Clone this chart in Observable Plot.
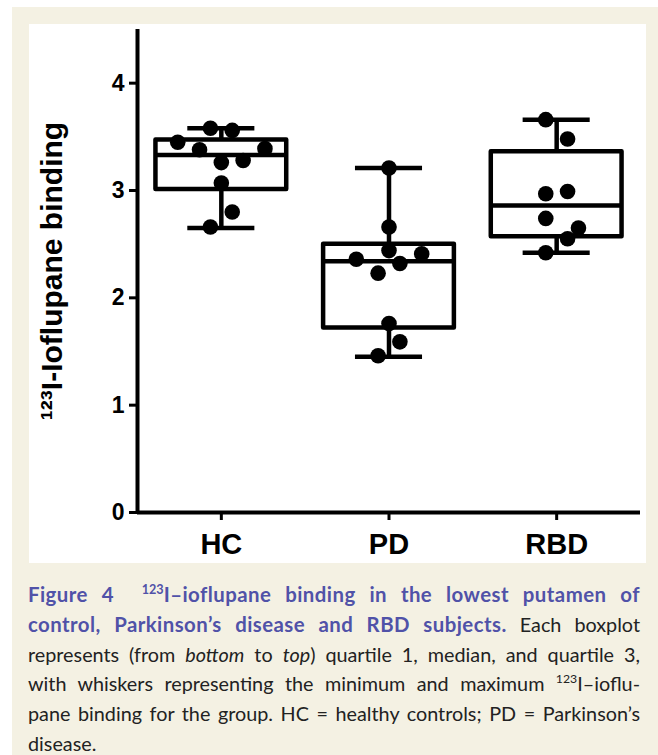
<!DOCTYPE html>
<html>
<head>
<meta charset="utf-8">
<script src="https://cdn.jsdelivr.net/npm/d3@7"></script>
<script src="https://cdn.jsdelivr.net/npm/@observablehq/plot@0.6"></script>
<style>
  html, body { margin: 0; padding: 0; background: #ffffff; width: 658px; height: 755px; overflow: hidden; }
  #sheet { position: absolute; left: 12px; top: 7px; width: 646px; height: 748px; background: #f4f1e3; }
  #panel { position: absolute; left: 29px; top: 24px; width: 617px; height: 539px; background: #ffffff; }
  #panel svg { display: block; }
  #caption { position: absolute; left: 28px; top: 580px; width: 612px; font-family: Lato, "Open Sans", sans-serif; font-size: 19.8px; line-height: 29.8px; color: #222; }
  #caption .ln { white-space: nowrap; text-align: justify; text-align-last: justify; }
  #caption .ln.last { text-align-last: left; }
  #caption b { color: #5052a8; font-weight: 700; font-size: 20.4px; letter-spacing: 0.45px; }
  #caption sup { font-size: 0.62em; line-height: 0; vertical-align: 0.62em; letter-spacing: 0; }
</style>
</head>
<body>
<div id="sheet"></div>
<div id="panel"></div>
<div id="caption">
  <div class="ln"><b>Figure 4&nbsp;&nbsp;<sup>123</sup>I–ioflupane binding in the lowest putamen of</b></div>
  <div class="ln"><b>control, Parkinson’s disease and RBD subjects.</b> Each boxplot</div>
  <div class="ln">represents (from <i>bottom</i> to <i>top</i>) quartile 1, median, and quartile 3,</div>
  <div class="ln">with whiskers representing the minimum and maximum <sup>123</sup>I–ioflu-</div>
  <div class="ln">pane binding for the group. HC = healthy controls; PD = Parkinson’s</div>
  <div class="ln last">disease.</div>
</div>
<script>
// ---- data ----
const groups = ["HC", "PD", "RBD"];

const hcValues  = [3.58, 3.56, 3.45, 3.38, 3.39, 3.26, 3.28, 3.07, 2.80, 2.66];
const hcJitter  = [-0.065, 0.065, -0.26, -0.13, 0.26, 0, 0.13, 0, 0.065, -0.065];
const pdValues  = [3.21, 2.66, 2.44, 2.36, 2.41, 2.32, 2.23, 1.76, 1.59, 1.46];
const pdJitter  = [0, 0, 0, -0.195, 0.195, 0.065, -0.065, 0, 0.065, -0.065];
const rbdValues = [3.66, 3.48, 2.97, 2.99, 2.74, 2.65, 2.55, 2.42];
const rbdJitter = [-0.065, 0.065, -0.065, 0.065, -0.065, 0.13, 0.065, -0.065];

const q1Values     = [3.01, 1.72, 2.57];
const medianValues = [3.33, 2.34, 2.86];
const q3Values     = [3.47, 2.50, 3.36];
const minValues    = [2.65, 1.45, 2.42];
const maxValues    = [3.58, 3.21, 3.66];

const yTicks = [0, 1, 2, 3, 4];
const yLabel = "¹²³I-Ioflupane binding";

// ---- tables built from the arrays ----
const boxes = groups.map((g, i) => ({
  pos: i + 1, q1: q1Values[i], median: medianValues[i], q3: q3Values[i], min: minValues[i], max: maxValues[i]
}));
const points = [
  ...hcValues.map((v, j) => ({pos: 1 + hcJitter[j], value: v})),
  ...pdValues.map((v, j) => ({pos: 2 + pdJitter[j], value: v})),
  ...rbdValues.map((v, j) => ({pos: 3 + rbdJitter[j], value: v}))
];

const BOX_HALF = 0.39, CAP_HALF = 0.2, SW = 4.5;

const chart = Plot.plot({
  width: 617,
  height: 539,
  marginLeft: 108,
  marginRight: 6,
  marginTop: 5,
  marginBottom: 51,
  style: {fontFamily: "'Liberation Sans', Arial, sans-serif", fontWeight: "bold", color: "#000", background: "transparent"},
  x: {domain: [0.5, 3.5], axis: null},
  y: {domain: [0, 4.5], axis: null},
  marks: [
    Plot.axisY({ticks: yTicks, tickFormat: d => String(d), tickSize: 8, tickPadding: 5, fontSize: 23, strokeWidth: 3, label: null}),
    Plot.axisX({ticks: [1, 2, 3], tickFormat: d => groups[d - 1], tickSize: 8, tickPadding: 13, fontSize: 29, strokeWidth: 3, label: null}),
    Plot.text([yLabel], {frameAnchor: "left", rotate: -90, dx: -85, fontSize: 30, fontWeight: "bold", textAnchor: "middle", lineAnchor: "middle"}),
    Plot.ruleX([0.5], {strokeWidth: 4}),
    Plot.ruleY([0], {strokeWidth: 4}),
    Plot.ruleX(boxes, {x: "pos", y1: "q3", y2: "max", strokeWidth: SW}),
    Plot.ruleX(boxes, {x: "pos", y1: "q1", y2: "min", strokeWidth: SW}),
    Plot.ruleY(boxes, {y: "max", x1: d => d.pos - CAP_HALF, x2: d => d.pos + CAP_HALF, strokeWidth: SW}),
    Plot.ruleY(boxes, {y: "min", x1: d => d.pos - CAP_HALF, x2: d => d.pos + CAP_HALF, strokeWidth: SW}),
    Plot.rect(boxes, {x1: d => d.pos - BOX_HALF, x2: d => d.pos + BOX_HALF, y1: "q1", y2: "q3", fill: "none", stroke: "black", strokeWidth: SW, strokeLinejoin: "round"}),
    Plot.ruleY(boxes, {y: "median", x1: d => d.pos - BOX_HALF, x2: d => d.pos + BOX_HALF, strokeWidth: SW}),
    Plot.dot(points, {x: "pos", y: "value", r: 7.8, fill: "black"})
  ]
});
document.getElementById("panel").appendChild(chart);
</script>
</body>
</html>
